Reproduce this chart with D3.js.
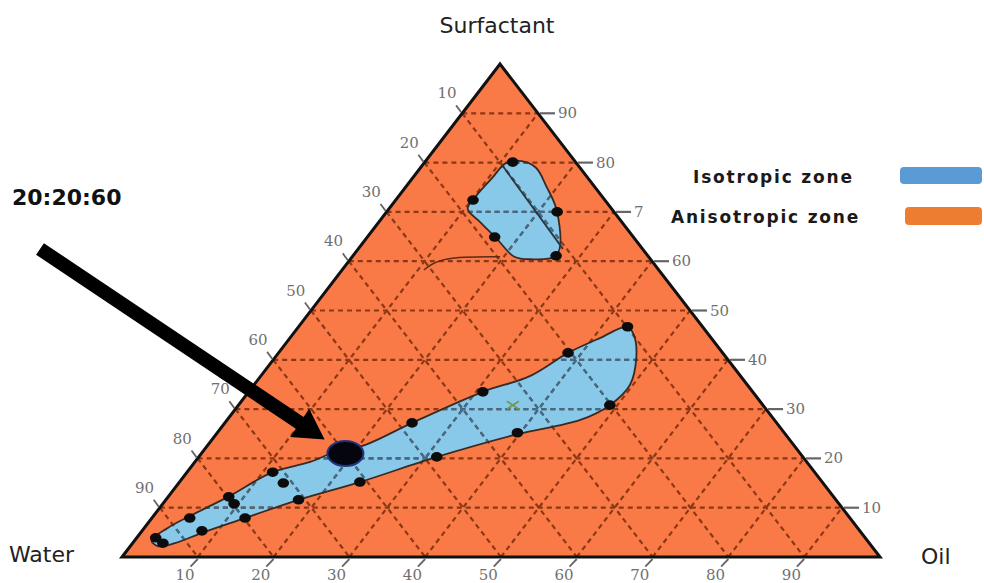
<!DOCTYPE html>
<html>
<head>
<meta charset="utf-8">
<script src="https://cdn.jsdelivr.net/npm/d3@7"></script>
<style>
  body { margin: 0; background: #fff; }
  svg { display: block; }
</style>
</head>
<body>
<div id="vis1"></div>
<script>
// all compositions are [water, oil, surfactant] in %
const TICKS = [10, 20, 30, 40, 50, 60, 70, 80, 90];
const BOTTOM_LABELS = ["10", "20", "30", "40", "50", "60", "70", "80", "90"];
const LEFT_LABELS = ["10", "20", "30", "40", "50", "60", "70", "80", "90"];
const RIGHT_LABELS = ["10", "20", "30", "40", "50", "60", "7", "80", "90"];
const AXIS_NAMES = ["Surfactant", "Water", "Oil"];
const LEGEND_NAMES = ["Isotropic zone", "Anisotropic zone"];

// isotropic zone near the surfactant corner
const TOP_ZONE = [
  [9.3, 10.8, 79.9], [7, 12.7, 80.3], [5.8, 15.3, 78.9], [6.3, 18.4, 75.3],
  [7.5, 22.5, 70], [11.9, 26.8, 61.3], [15.9, 23.7, 60.4], [17.7, 21.4, 60.9],
  [18.2, 17.1, 64.7], [18.7, 13.3, 68], [19, 10.4, 70.6], [16.6, 10.2, 73.2],
  [12.6, 10.5, 76.9]
];
// long isotropic band from the water corner
const BOTTOM_ZONE = [
  [94.4, 2.2, 3.4], [91, 3.1, 5.9], [86.9, 4.8, 8.3], [79.9, 7.9, 12.2],
  [71.5, 11.3, 17.2], [65.5, 15.2, 19.3], [61.2, 17.5, 21.3], [56.6, 20.7, 22.7],
  [48.1, 24.7, 27.2], [35.6, 30.9, 33.5], [27.8, 35.5, 36.7], [20.4, 38.2, 41.4],
  [14.7, 40.9, 44.4], [9.9, 43.4, 46.7], [9.9, 45.1, 45], [11.9, 47.7, 40.4],
  [15.5, 49.6, 34.9], [20.2, 49, 30.8], [25.6, 46.6, 27.8], [35.4, 39.7, 24.9],
  [48.3, 31.4, 20.3], [61, 23.8, 15.2], [70.9, 17.5, 11.6], [79.8, 12.3, 7.9],
  [87, 8.1, 4.9], [91.6, 5.6, 2.8], [94.2, 3.6, 2.2]
];
const TOP_DOTS = [
  [17.4, 10.2, 72.4], [8.3, 11.6, 80.1], [7.5, 22.5, 70],
  [18.3, 16.8, 64.9], [12.1, 26.8, 61.1]
];
const BOTTOM_DOTS = [
  [93.6, 2.5, 3.9], [93.2, 4, 2.8], [87.1, 5, 7.9], [86.8, 7.9, 5.3],
  [79.8, 8, 12.2], [79.8, 9.4, 10.8], [79.8, 12.3, 7.9], [71.5, 11.3, 17.2],
  [71.2, 13.8, 15], [70.9, 17.5, 11.6], [61, 23.8, 15.2], [48.1, 24.7, 27.2],
  [48.3, 31.4, 20.3], [35.6, 30.9, 33.5], [35.2, 39.6, 25.2], [20.4, 38.2, 41.4],
  [20.2, 49, 30.8], [9.9, 43.4, 46.7]
];
const MARKED = [60, 19, 21];
const MARKED_LABEL = "20:20:60";
const GREEN_CROSS = [33, 36.2, 30.8];
const SOLID_SEGMENT = [[10, 10.5, 79.5], [10.5, 27, 62.5]];
const THIN_CURVE = [[31, 10.8, 58.2], [27.5, 11.6, 60.9], [19.6, 19.5, 60.9]];

const FRAME_WIDTH = 984;
const FRAME_HEIGHT = 583;

const FRAME1 = d3.select("#vis1")
  .append("svg")
    .attr("width", FRAME_WIDTH)
    .attr("height", FRAME_HEIGHT);

// ternary projection built from linear scales
const BASE_X = d3.scaleLinear().domain([0, 100]).range([122, 880]);
const SHEAR_X = d3.scaleLinear().domain([0, 100]).range([0, 378]);
const SURF_Y = d3.scaleLinear().domain([0, 100]).range([557, 64]);
const proj = (d) => [BASE_X(d[1]) + SHEAR_X(d[2]), SURF_Y(d[2])];

const ORANGE = "#FA7A47";
const BLUE = "#88C9EA";

const CORNERS = [[100, 0, 0], [0, 0, 100], [0, 100, 0]];

// anisotropic background
FRAME1.append("path")
  .attr("d", d3.line()(CORNERS.map(proj)) + "Z")
  .attr("fill", ORANGE);

const zoneLine = d3.line().curve(d3.curveCatmullRomClosed.alpha(0.5));
const zones = [TOP_ZONE, BOTTOM_ZONE];

FRAME1.selectAll(".zone")
  .data(zones)
  .enter()
  .append("path")
    .attr("class", "zone")
    .attr("d", (d) => zoneLine(d.map(proj)))
    .attr("fill", BLUE);

const defs = FRAME1.append("defs");
defs.append("clipPath").attr("id", "zoneClip")
  .selectAll("path")
  .data(zones)
  .enter()
  .append("path")
    .attr("d", (d) => zoneLine(d.map(proj)));

// grid lines for the three components
const gridData = [];
TICKS.forEach((t) => {
  gridData.push([[100 - t, 0, t], [0, 100 - t, t]]);   // surfactant
  gridData.push([[t, 0, 100 - t], [t, 100 - t, 0]]);   // water
  gridData.push([[100 - t, t, 0], [0, t, 100 - t]]);   // oil
});

function drawGrid(g, color) {
  g.selectAll("line")
    .data(gridData)
    .enter()
    .append("line")
      .attr("x1", (d) => proj(d[0])[0])
      .attr("y1", (d) => proj(d[0])[1])
      .attr("x2", (d) => proj(d[1])[0])
      .attr("y2", (d) => proj(d[1])[1])
      .attr("stroke", color)
      .attr("stroke-width", 2.2)
      .attr("stroke-dasharray", "5,4");
}
drawGrid(FRAME1.append("g").attr("opacity", 0.95), "#873512");
drawGrid(FRAME1.append("g").attr("clip-path", "url(#zoneClip)"), "#3d6d8c");

// zone outlines
FRAME1.selectAll(".zoneEdge")
  .data(zones)
  .enter()
  .append("path")
    .attr("class", "zoneEdge")
    .attr("d", (d) => zoneLine(d.map(proj)))
    .attr("fill", "none")
    .attr("stroke", "#3a2a24")
    .attr("stroke-width", 1.8);

// triangle border
FRAME1.append("path")
  .attr("d", d3.line()(CORNERS.map(proj)) + "Z")
  .attr("fill", "none")
  .attr("stroke", "#111")
  .attr("stroke-width", 3)
  .attr("stroke-linejoin", "miter");

FRAME1.append("path")
  .attr("d", d3.line()(SOLID_SEGMENT.map(proj)))
  .attr("stroke", "#2b3440")
  .attr("stroke-width", 1.8);

FRAME1.append("path")
  .attr("d", d3.line().curve(d3.curveBasis)(THIN_CURVE.map(proj)))
  .attr("fill", "none")
  .attr("stroke", "#5a2a16")
  .attr("stroke-width", 1.4);

// ticks and labels
const tickG = FRAME1.append("g")
  .attr("font-family", "'DejaVu Serif', serif")
  .attr("font-size", "15px")
  .attr("fill", "#707070");

const DOWN_LEFT = [-0.609, 0.793];
const UP_LEFT = [-0.609, -0.793];

TICKS.forEach((t, i) => {
  // oil along the base
  const pb = proj([100 - t, t, 0]);
  tickG.append("line")
    .attr("x1", pb[0]).attr("y1", pb[1] + 2)
    .attr("x2", pb[0] + DOWN_LEFT[0] * 12).attr("y2", pb[1] + DOWN_LEFT[1] * 12)
    .attr("stroke", "#666").attr("stroke-width", 1.8);
  tickG.append("text")
    .attr("x", pb[0] + DOWN_LEFT[0] * 21)
    .attr("y", pb[1] + DOWN_LEFT[1] * 21 + 6)
    .attr("text-anchor", "middle")
    .text(BOTTOM_LABELS[i]);

  // water along the left edge
  const pl = proj([t, 0, 100 - t]);
  tickG.append("line")
    .attr("x1", pl[0] - 1).attr("y1", pl[1] - 1)
    .attr("x2", pl[0] + UP_LEFT[0] * 10).attr("y2", pl[1] + UP_LEFT[1] * 10)
    .attr("stroke", "#666").attr("stroke-width", 1.8);
  tickG.append("text")
    .attr("x", pl[0] + UP_LEFT[0] * 25)
    .attr("y", pl[1] + UP_LEFT[1] * 25 + 5)
    .attr("text-anchor", "middle")
    .text(LEFT_LABELS[i]);

  // surfactant along the right edge
  const pr = proj([0, 100 - t, t]);
  tickG.append("line")
    .attr("x1", pr[0] + 2).attr("y1", pr[1])
    .attr("x2", pr[0] + 17).attr("y2", pr[1])
    .attr("stroke", "#666").attr("stroke-width", 2.2);
  tickG.append("text")
    .attr("x", pr[0] + 20)
    .attr("y", pr[1] + 5)
    .attr("text-anchor", "start")
    .text(RIGHT_LABELS[i]);
});

// measured points
FRAME1.selectAll(".dot")
  .data(TOP_DOTS.concat(BOTTOM_DOTS))
  .enter()
  .append("ellipse")
    .attr("class", "dot")
    .attr("cx", (d) => proj(d)[0])
    .attr("cy", (d) => proj(d)[1])
    .attr("rx", 5.8)
    .attr("ry", 4.8)
    .attr("fill", "#0c0c0c");

// small green cross
const gc = proj(GREEN_CROSS);
FRAME1.append("path")
  .attr("d", `M${gc[0] - 6},${gc[1] - 4}L${gc[0] + 6},${gc[1] + 4}M${gc[0] - 6},${gc[1] + 4}L${gc[0] + 6},${gc[1] - 4}`)
  .attr("stroke", "#6f9a55")
  .attr("stroke-width", 1.8);

// highlighted composition
const mc = proj(MARKED);
FRAME1.append("ellipse")
  .attr("cx", mc[0])
  .attr("cy", mc[1])
  .attr("rx", 18)
  .attr("ry", 12.5)
  .attr("fill", "#05050d")
  .attr("stroke", "#1f3580")
  .attr("stroke-width", 2);

// arrow from the label to the highlighted point
const start = [40, 249];
const dx = mc[0] - start[0], dy = mc[1] - start[1];
const len = Math.hypot(dx, dy);
const u = [dx / len, dy / len];
const n = [-u[1], u[0]];
const tip = [mc[0] - u[0] * 25, mc[1] - u[1] * 25];
const base = [tip[0] - u[0] * 30, tip[1] - u[1] * 30];
const sw = 7, hw = 17;
const arrowPts = [
  [start[0] + n[0] * sw, start[1] + n[1] * sw],
  [base[0] + n[0] * sw, base[1] + n[1] * sw],
  [base[0] + n[0] * hw, base[1] + n[1] * hw],
  tip,
  [base[0] - n[0] * hw, base[1] - n[1] * hw],
  [base[0] - n[0] * sw, base[1] - n[1] * sw],
  [start[0] - n[0] * sw, start[1] - n[1] * sw]
];
FRAME1.append("path")
  .attr("d", d3.line()(arrowPts) + "Z")
  .attr("fill", "#000");

FRAME1.append("text")
  .attr("x", 12)
  .attr("y", 205)
  .attr("font-family", "'DejaVu Sans', sans-serif")
  .attr("font-weight", "bold")
  .attr("font-size", "22px")
  .attr("fill", "#111")
  .text(MARKED_LABEL);

// corner names
const nameG = FRAME1.append("g")
  .attr("font-family", "'DejaVu Sans', sans-serif")
  .attr("font-size", "22px")
  .attr("fill", "#222");
nameG.append("text").attr("x", 497).attr("y", 33).attr("text-anchor", "middle").text(AXIS_NAMES[0]);
nameG.append("text").attr("x", 9).attr("y", 562).text(AXIS_NAMES[1]);
nameG.append("text").attr("x", 921).attr("y", 564).text(AXIS_NAMES[2]);

// legend
const legendColors = ["#5B9BD5", "#ED7D31"];
const legendRows = [
  { x: 693, y: 183, rx: 900, ry: 167, rw: 82, rh: 17 },
  { x: 671, y: 223, rx: 905, ry: 207, rw: 77, rh: 18 }
];
legendRows.forEach((r, i) => {
  FRAME1.append("text")
    .attr("x", r.x)
    .attr("y", r.y)
    .attr("font-family", "'DejaVu Sans', sans-serif")
    .attr("font-weight", "bold")
    .attr("font-size", "17px")
    .attr("letter-spacing", "1.8px")
    .attr("fill", "#1a1a1a")
    .text(LEGEND_NAMES[i]);
  FRAME1.append("rect")
    .attr("x", r.rx)
    .attr("y", r.ry)
    .attr("width", r.rw)
    .attr("height", r.rh)
    .attr("rx", 4)
    .attr("fill", legendColors[i]);
});
</script>
</body>
</html>
